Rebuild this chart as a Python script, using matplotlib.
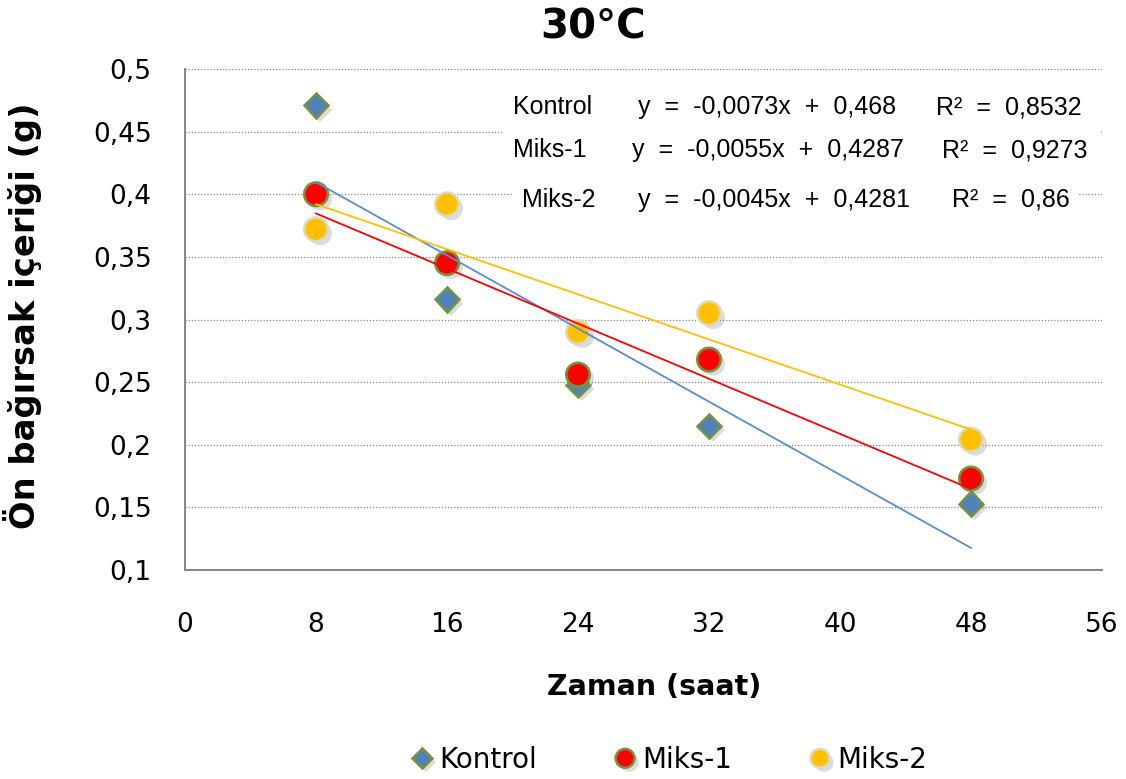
import matplotlib
matplotlib.use("Agg")
import matplotlib.pyplot as plt
import matplotlib.patheffects as pe
from matplotlib.patches import Rectangle
from matplotlib.ticker import FuncFormatter, MultipleLocator

# zaman (saat) ve ön bağırsak içeriği (g)
saat = [8, 16, 24, 32, 48]
kontrol = [0.471, 0.316, 0.248, 0.215, 0.153]
miks1 = [0.400, 0.345, 0.256, 0.268, 0.173]
miks2 = [0.372, 0.392, 0.290, 0.305, 0.204]

# trend çizgileri (grafikteki denklemler)
seriler = ["Kontrol", "Miks-1", "Miks-2"]
egim = [-0.0073, -0.0055, -0.0045]
kesim = [0.468, 0.4287, 0.4281]
r2 = ["0,8532", "0,9273", "0,86"]
denklem = ["y = -0,0073x + 0,468", "y = -0,0055x + 0,4287", "y = -0,0045x + 0,4281"]

renk_cizgi = ["#558ED5", "#FF0000", "#FFC000"]

fig = plt.figure(figsize=(11.26, 7.79), dpi=100)
ax = fig.add_axes([0.1643, 0.2683, 0.8144, 0.6431])

golge = [pe.SimplePatchShadow(offset=(3, -3), shadow_rgbFace="#8C8C8C", alpha=0.3), pe.Normal()]

ax.plot(saat, kontrol, ls="none", marker="D", ms=12.5, mfc="#4F81BD", mec="#77933C",
        mew=1.8, label="Kontrol", path_effects=golge, zorder=3)
ax.plot(saat, miks1, ls="none", marker="o", ms=17, mfc="#FF0000", mec="#77933C",
        mew=1.8, label="Miks-1", path_effects=golge, zorder=3)
ax.plot(saat, miks2, ls="none", marker="o", ms=17, mfc="#FFC000", mec="#DDD9C3",
        mew=1.8, label="Miks-2", path_effects=golge, zorder=3)

x0, x1 = saat[0], saat[-1]
for m, b, c in zip(egim, kesim, renk_cizgi):
    ax.plot([x0, x1], [m * x0 + b, m * x1 + b], color=c, lw=1.3, zorder=4)

# denklem kutuları (ızgarayı örter)
ax.add_patch(Rectangle((0.347, 0.788), 0.651, 0.19, transform=ax.transAxes,
                       facecolor="white", edgecolor="none", zorder=2))
ax.add_patch(Rectangle((0.357, 0.705), 0.617, 0.083, transform=ax.transAxes,
                       facecolor="white", edgecolor="none", zorder=2))
eq_font = dict(family="Liberation Sans", fontsize=18, va="center", zorder=5)
satir_y = [0.924, 0.838, 0.739]
ad_x = [0.358, 0.358, 0.368]
eq_x = [0.494, 0.487, 0.494]
r2_x = [0.819, 0.826, 0.836]
for i in range(3):
    ax.text(ad_x[i], satir_y[i], seriler[i], transform=ax.transAxes, **eq_font)
    ax.text(eq_x[i], satir_y[i], denklem[i].replace(" ", "  "), transform=ax.transAxes, **eq_font)
    ax.text(r2_x[i], satir_y[i], "R²  =  " + r2[i], transform=ax.transAxes, **eq_font)

ax.set_xlim(0, 56)
ax.set_ylim(0.1, 0.5)
ax.xaxis.set_major_locator(MultipleLocator(8))
ax.yaxis.set_major_locator(MultipleLocator(0.05))
ax.yaxis.set_major_formatter(FuncFormatter(lambda v, p: f"{v:.2f}".rstrip("0").replace(".", ",")))
ax.tick_params(axis="both", length=0, labelsize=19)
ax.tick_params(axis="x", pad=30)
ax.tick_params(axis="y", pad=24)

ax.grid(axis="y", ls=(0, (1, 1.5)), color="#878787", lw=0.9)
ax.set_axisbelow(True)
for s in ["top", "right"]:
    ax.spines[s].set_visible(False)
for s in ["left", "bottom"]:
    ax.spines[s].set_color("#868686")
    ax.spines[s].set_linewidth(1.4)

ax.set_xlabel("Zaman (saat)", fontsize=20.5, fontweight="bold")
ax.xaxis.set_label_coords(0.5115, -0.205)
ax.set_ylabel("Ön bağırsak içeriği (g)", fontsize=24.3, fontweight="bold")
ax.yaxis.set_label_coords(-0.156, 0.507)
fig.text(0.527, 0.965, "30°C", ha="center", va="center", fontsize=29, fontweight="bold")

fig.legend(loc="center", bbox_to_anchor=(0.593, 0.0244), ncol=3, frameon=False,
           fontsize=20, handlelength=1.0, handletextpad=0.12, columnspacing=2.66,
           markerscale=0.8)

fig.savefig("out.png", dpi=100)
